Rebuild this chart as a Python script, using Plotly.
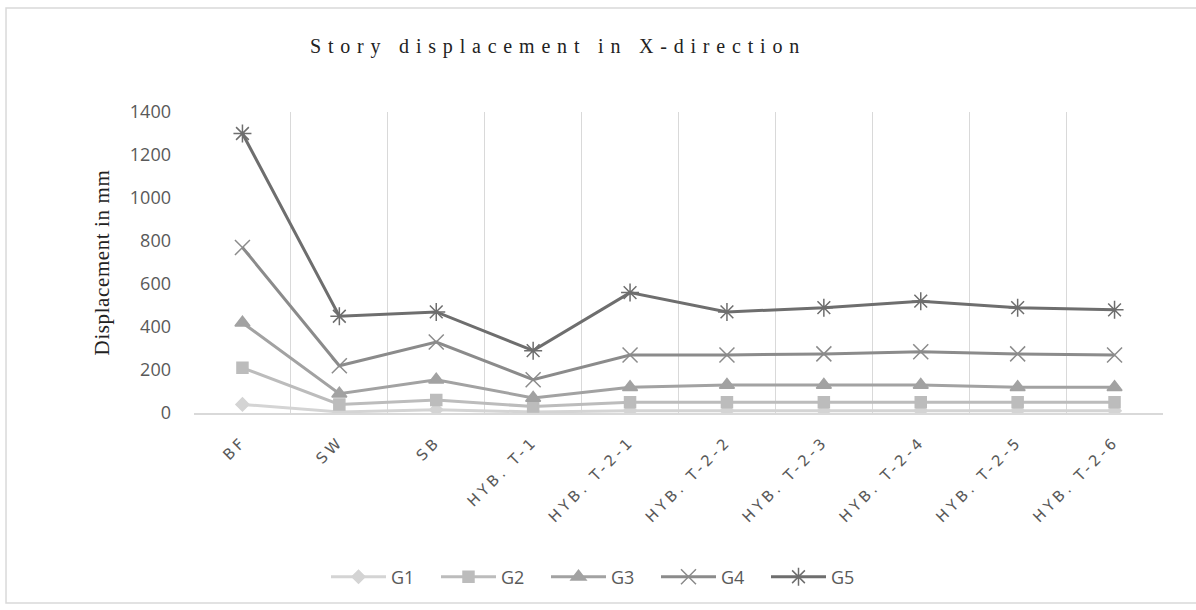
import plotly.graph_objects as go

# Structural systems compared
categories = ["BF", "SW", "SB", "HYB. T-1", "HYB. T-2-1", "HYB. T-2-2",
              "HYB. T-2-3", "HYB. T-2-4", "HYB. T-2-5", "HYB. T-2-6"]

# Story displacement (mm) per ground-motion group
g1 = [40, 5, 15, 5, 10, 10, 10, 10, 10, 10]
g2 = [210, 40, 60, 30, 50, 50, 50, 50, 50, 50]
g3 = [420, 90, 155, 70, 120, 130, 130, 130, 120, 120]
g4 = [770, 220, 330, 155, 270, 270, 275, 285, 275, 270]
g5 = [1300, 450, 470, 290, 560, 470, 490, 520, 490, 480]

series = [
    ("G1", g1, "#d4d4d4", "diamond", 10),
    ("G2", g2, "#bcbcbc", "square", 11),
    ("G3", g3, "#a2a2a2", "triangle-up", 13),
    ("G4", g4, "#8b8b8b", "x-thin-open", 15),
    ("G5", g5, "#6e6e6e", "asterisk-open", 15),
]


def spaced(text, px):
    return f"<span style='letter-spacing:{px}px'>{text}</span>"


fig = go.Figure()
for name, vals, color, symbol, size in series:
    fig.add_trace(go.Scatter(
        x=categories, y=vals, name=name, mode="lines+markers",
        line=dict(color=color, width=3),
        marker=dict(symbol=symbol, size=size, color=color,
                    line=dict(color=color, width=1.5)),
    ))

# Outer frame of the chart area (open on the right)
fig.add_shape(type="rect", xref="paper", yref="paper",
              x0=-0.194, x1=1.2, y0=-0.631, y1=1.3455,
              line=dict(color="#d9d9d9", width=1.5), fillcolor="rgba(0,0,0,0)",
              layer="below")

fig.update_layout(
    width=1196, height=610,
    margin=dict(l=194, r=33, t=112, b=197, autoexpand=False),
    paper_bgcolor="white", plot_bgcolor="white",
    title=dict(text=spaced("Story displacement in X-direction", 6.8),
               font=dict(family="Liberation Serif", size=20, color="#222222"),
               x=(558 - 194) / 969, xref="paper", xanchor="center",
               y=0.925, yanchor="middle"),
    legend=dict(orientation="h", x=(326 - 194) / 969, xanchor="left", y=-0.545,
                yanchor="middle", font=dict(family="Open Sans", size=18, color="#595959"),
                entrywidth=40, entrywidthmode="pixels", traceorder="normal",
                itemwidth=55),
    showlegend=True,
)

fig.update_xaxes(
    type="category", tickson="boundaries", showgrid=True, gridcolor="#d9d9d9",
    gridwidth=1, showline=True, linecolor="#d9d9d9", linewidth=1.5,
    ticks="", tickangle=-45, ticklabelstandoff=12,
    tickmode="array", tickvals=categories,
    ticktext=[spaced(c, 3.6) for c in categories],
    tickfont=dict(family="DejaVu Sans", size=15, color="#595959"),
    range=[-0.5, 9.5],
)
fig.update_yaxes(
    range=[0, 1400], dtick=200, showgrid=False, zeroline=False,
    showline=False, ticks="", ticklabelstandoff=22,
    tickfont=dict(family="Open Sans", size=18, color="#595959"),
    title=dict(text=spaced("Displacement in mm", 0.6),
               font=dict(family="Liberation Serif", size=21, color="#222222"),
               standoff=14),
)

fig.write_html("out.html")
